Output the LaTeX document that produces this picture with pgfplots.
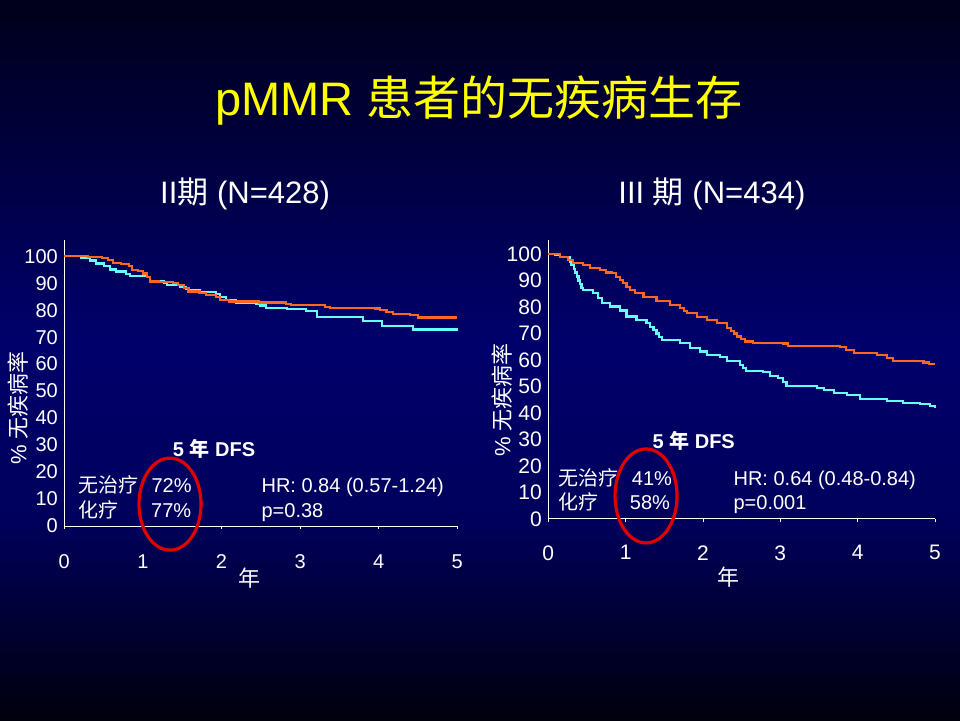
\documentclass[border=0pt]{standalone}
\usepackage{fontspec}
\setmainfont{Liberation Sans}
\newfontfamily\cjk{Noto Sans CJK SC}
\usepackage{pgfplots}
\pgfplotsset{compat=1.18}
\definecolor{kmorange}{RGB}{255,102,32}
\definecolor{kmcyan}{RGB}{102,255,255}
\definecolor{ttl}{RGB}{255,255,0}
\definecolor{ovalred}{RGB}{225,0,0}
\pgfdeclareverticalshading{bgshade}{100bp}{rgb(0bp)=(0,0,0.05); rgb(25bp)=(0,0,0.05); rgb(38.9bp)=(0,0,0.36); rgb(51.4bp)=(0,0,0.42); rgb(75bp)=(0,0,0.10); rgb(100bp)=(0,0,0.10)}
\pgfplotsset{km/.style={
  scale only axis, clip=false,
  xmin=0, xmax=5, ymin=0,
  axis x line=bottom, axis y line=left,
  axis line style={white, line width=1pt, -},
  xtick={0,...,5}, ytick={0,10,...,100},
  ytick style={draw=none},
  xtick style={white, line width=0.8pt},
  tick align=outside, major tick length=3pt,
  /pgf/number format/assume math mode=true,
  ticklabel style={text=white},
  label style={text=white, font=\fontsize{22}{22}\selectfont},
  title style={text=white, font=\fontsize{31}{31}\selectfont, anchor=center},
}}
\begin{document}
\begin{tikzpicture}
\path[use as bounding box] (0,0) rectangle (960pt,720pt);
\shade[shading=bgshade] (0,0) rectangle (960pt,720pt);

% ---------- Left panel: Stage II ----------
\begin{axis}[km,
  at={(64.3pt,194pt)}, anchor=south west,
  width=393pt, height=286pt, ymax=106,
  ticklabel style={font=\fontsize{20}{20}\selectfont},
  xticklabel style={yshift=-22pt},
  xlabel={\cjk 年},
  xlabel style={at={(axis description cs:0.47,0)}, anchor=center, yshift=-52pt},
  ylabel={\% {\cjk 无疾病率}},
  ylabel style={at={(axis description cs:-0.118,0.413)}, anchor=center},
  title={II{\cjk 期} (N=428)},
  title style={at={(axis description cs:0.46,1)}, yshift=40pt},
]
\addplot[const plot, kmcyan, line width=2.2pt] coordinates {
(0,100) (0.22,99.2) (0.33,98.4) (0.40,97.3) (0.50,96.3) (0.58,95.1) (0.66,94.3)
(0.79,93.5) (0.84,92.7) (1.05,92.3) (1.09,90.6) (1.27,90.1) (1.31,89.3) (1.47,88.7)
(1.55,88.0) (1.59,87.4) (1.73,86.8) (1.93,85.9) (1.98,84.9) (2.06,83.8) (2.18,82.8)
(2.44,82.4) (2.49,81.7) (2.57,80.9) (2.83,80.4) (3.08,79.6) (3.21,77.4) (3.80,75.9)
(4.04,74.0) (4.44,72.8) (5.00,72.6)};
\addplot[const plot, kmorange, line width=2.2pt] coordinates {
(0,100) (0.30,99.8) (0.48,99.3) (0.56,98.6) (0.62,97.6) (0.72,97.0) (0.82,96.5)
(0.86,95.0) (0.94,94.4) (1.00,93.6) (1.05,92.2) (1.09,90.6) (1.20,90.4) (1.38,90.0)
(1.45,89.4) (1.52,88.2) (1.58,86.9) (1.72,86.4) (1.80,85.6) (1.93,84.9) (1.98,83.8)
(2.10,83.2) (2.48,82.8) (2.82,82.4) (2.88,81.8) (3.32,81.3) (3.38,80.7) (3.95,80.6)
(4.02,80.0) (4.10,79.4) (4.18,78.6) (4.40,78.1) (4.50,77.3) (5.00,77.3)};
\node[text=white, font=\fontsize{20}{20}\selectfont\bfseries, anchor=base] at (axis cs:1.905,25.7) {5 {\cjk 年} DFS};
\begin{scope}[every node/.style={text=white, font=\fontsize{20}{20}\selectfont, anchor=base west}]
\node at (axis cs:0.136,12.5) {\cjk 无治疗};
\node at (axis cs:1.066,12.5) {72\%};
\node at (axis cs:0.136,3.2) {\cjk 化疗};
\node at (axis cs:1.06,3.2) {77\%};
\node at (axis cs:2.465,12.5) {HR: 0.84 (0.57-1.24)};
\node at (axis cs:2.465,3.2) {p=0.38};
\end{scope}
\draw[ovalred, line width=3.2pt] (axis cs:1.345,8.1) ellipse [x radius=31pt, y radius=46pt];
\end{axis}

% ---------- Right panel: Stage III ----------
\begin{axis}[km,
  at={(548.3pt,201pt)}, anchor=south west,
  width=386.7pt, height=279pt, ymax=105.3,
  ticklabel style={font=\fontsize{21}{21}\selectfont},
  xticklabel style={yshift=-20pt},
  xlabel={\cjk 年},
  xlabel style={at={(axis description cs:0.467,0)}, anchor=center, yshift=-58pt},
  ylabel={\% {\cjk 无疾病率}},
  ylabel style={at={(axis description cs:-0.12,0.427)}, anchor=center},
  title={III {\cjk 期} (N=434)},
  title style={at={(axis description cs:0.423,1)}, yshift=40pt},
]
\addplot[const plot, kmcyan, line width=2.2pt] coordinates {
(0,100) (0.09,99.6) (0.15,99.0) (0.28,97.0) (0.30,96.0) (0.33,94.5) (0.35,93.0)
(0.37,91.5) (0.39,90.0) (0.41,88.6) (0.43,87.3) (0.45,86.4) (0.58,85.2) (0.64,83.3)
(0.69,81.4) (0.80,80.2) (0.93,78.7) (1.01,76.4) (1.14,75.2) (1.27,73.9) (1.32,72.6)
(1.36,71.4) (1.40,70.0) (1.43,68.8) (1.47,67.6) (1.70,66.4) (1.83,64.5) (1.96,63.2)
(2.05,62.0) (2.22,61.1) (2.31,59.5) (2.48,58.2) (2.52,57.0) (2.56,55.9) (2.78,55.4)
(2.87,54.1) (2.97,53.2) (3.03,51.6) (3.08,50.1) (3.47,49.5) (3.56,48.6) (3.69,47.6)
(3.86,46.7) (4.03,45.4) (4.38,44.5) (4.59,43.9) (4.81,43.5) (4.94,42.6) (5.00,42.0)};
\addplot[const plot, kmorange, line width=2.2pt] coordinates {
(0,100) (0.15,99.0) (0.25,97.6) (0.32,96.5) (0.45,95.9) (0.54,94.6) (0.67,94.0)
(0.75,93.0) (0.82,92.7) (0.88,91.4) (0.93,90.2) (0.97,89.0) (1.01,87.7) (1.06,86.5)
(1.12,85.2) (1.23,83.9) (1.40,82.3) (1.57,80.8) (1.70,79.6) (1.75,78.6) (1.79,77.7)
(1.92,76.1) (2.05,75.2) (2.18,73.9) (2.31,72.1) (2.36,71.0) (2.40,70.0) (2.44,68.9)
(2.49,67.8) (2.54,67.0) (2.65,66.4) (3.04,66.2) (3.10,65.4) (3.77,64.9) (3.85,63.8)
(3.95,62.7) (4.25,62.0) (4.38,60.8) (4.46,59.5) (4.85,59.1) (4.92,58.6) (5.00,58.6)};
\node[text=white, font=\fontsize{20}{20}\selectfont\bfseries, anchor=base] at (axis cs:1.88,26.7) {5 {\cjk 年} DFS};
\begin{scope}[every node/.style={text=white, font=\fontsize{20}{20}\selectfont, anchor=base west}]
\node at (axis cs:0.087,12.8) {\cjk 无治疗};
\node at (axis cs:1.035,12.8) {41\%};
\node at (axis cs:0.087,3.4) {\cjk 化疗};
\node at (axis cs:1.01,3.4) {58\%};
\node at (axis cs:2.35,12.8) {HR: 0.64 (0.48-0.84)};
\node at (axis cs:2.35,3.4) {p=0.001};
\end{scope}
\draw[ovalred, line width=3.2pt] (axis cs:1.264,8.7) ellipse [x radius=31pt, y radius=47pt];
\end{axis}

\node[text=ttl, font=\fontsize{47}{47}\selectfont] at (479pt,619pt) {pMMR {\cjk 患者的无疾病生存}};
\end{tikzpicture}
\end{document}
